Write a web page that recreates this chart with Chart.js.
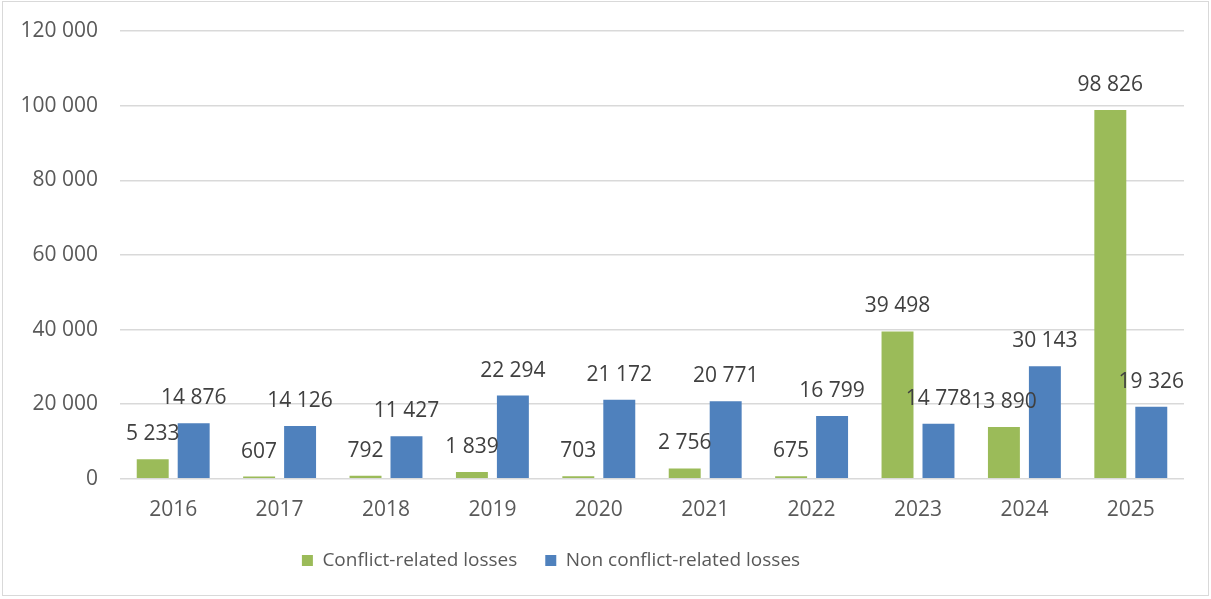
<!DOCTYPE html>
<html>
<head>
<meta charset="utf-8">
<script src="https://cdn.jsdelivr.net/npm/chart.js@4"></script>
<style>
html,body{margin:0;padding:0;background:#fff;}
#wrap{position:relative;width:1211px;height:599px;}
#frame{position:absolute;left:2px;top:1px;width:1207px;height:595px;border:1px solid #d9d9d9;box-sizing:border-box;pointer-events:none;}
canvas{position:absolute;left:0;top:0;}
</style>
</head>
<body>
<div id="wrap">
<canvas id="c" width="1211" height="599"></canvas>
<div id="frame"></div>
</div>
<script>
const categories = ['2016','2017','2018','2019','2020','2021','2022','2023','2024','2025'];
const conflictLosses = [5233, 607, 792, 1839, 703, 2756, 675, 39498, 13890, 98826];
const nonConflictLosses = [14876, 14126, 11427, 22294, 21172, 20771, 16799, 14778, 30143, 19326];
const seriesNames = ['Conflict-related losses', 'Non conflict-related losses'];
const yTicks = [0, 20000, 40000, 60000, 80000, 100000, 120000];

function fmt(v){ return String(Math.round(v)).replace(/\B(?=(\d{3})+(?!\d))/g, ' '); }

const FONT = "'Open Sans', 'Noto Sans', sans-serif";

const labelPlugin = {
  id: 'valueLabels',
  afterDatasetsDraw(chart){
    const ctx = chart.ctx;
    ctx.save();
    ctx.font = "21px " + FONT;
    ctx.fillStyle = '#404040';
    ctx.textAlign = 'center';
    ctx.textBaseline = 'middle';
    chart.data.datasets.forEach((ds, di) => {
      const meta = chart.getDatasetMeta(di);
      meta.data.forEach((bar, i) => {
        ctx.fillText(fmt(ds.data[i]), bar.x, bar.y - 25);
      });
    });
    ctx.restore();
  }
};

const legendShift = {
  id: 'legendShift',
  afterLayout(chart){
    const lg = chart.legend;
    if (!lg) return;
    const dy = 523 - lg.top;
    const dx = -41;
    lg.top += dy; lg.bottom += dy;
    lg.left += dx; lg.right += dx;
    if (lg.adjustHitBoxes) lg.adjustHitBoxes();
  }
};

new Chart(document.getElementById('c'), {
  type: 'bar',
  data: {
    labels: categories,
    datasets: [
      { label: seriesNames[0], data: conflictLosses, backgroundColor: '#9BBB59', categoryPercentage: 0.77, barPercentage: 0.78 },
      { label: seriesNames[1], data: nonConflictLosses, backgroundColor: '#4F81BD', categoryPercentage: 0.77, barPercentage: 0.78 }
    ]
  },
  options: {
    responsive: false,
    animation: false,
    layout: { padding: { left: 0, right: 27, top: 31, bottom: 0 } },
    plugins: {
      tooltip: { enabled: false },
      legend: {
        position: 'bottom',
        labels: {
          boxWidth: 11, boxHeight: 11, padding: 28,
          color: '#595959',
          font: { size: 19, family: FONT }
        }
      }
    },
    scales: {
      x: {
        grid: { display: false, drawTicks: false },
        border: { display: false },
        ticks: { color: '#595959', font: { size: 21, family: FONT }, padding: 19 }
      },
      y: {
        min: 0, max: 120000,
        afterBuildTicks(s){ s.ticks = yTicks.map(v => ({ value: v })); },
        afterFit(s){ s.width = 120; s.paddingTop = 0; s.paddingBottom = 0; },
        grid: { color: '#d9d9d9', lineWidth: 1.5, drawTicks: false },
        border: { display: false },
        ticks: { color: '#595959', font: { size: 21, family: FONT }, padding: 22, callback: v => fmt(v) }
      }
    }
  },
  plugins: [labelPlugin, legendShift]
});
</script>
</body>
</html>
